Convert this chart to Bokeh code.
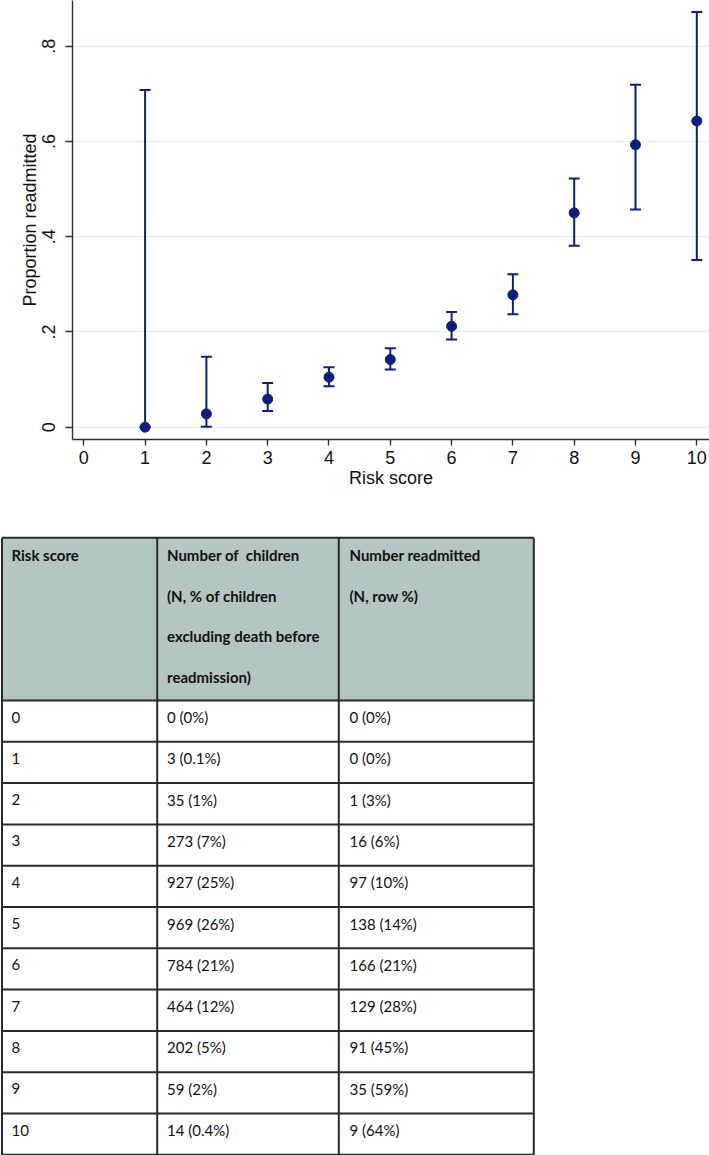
from bokeh.plotting import figure
from bokeh.layouts import column
from bokeh.models import (Range1d, FixedTicker, CustomJSTickFormatter, ColumnDataSource,
                          Whisker, TeeHead)
from bokeh.core.properties import value
from bokeh.embed import file_html
from bokeh.resources import INLINE

# ---------------- data ----------------
score_plot = [1, 2, 3, 4, 5, 6, 7, 8, 9, 10]
proportion = [0.0, 0.028, 0.059, 0.105, 0.142, 0.212, 0.278, 0.450, 0.593, 0.643]
ci_low = [0.0, 0.001, 0.034, 0.086, 0.121, 0.184, 0.237, 0.381, 0.457, 0.351]
ci_high = [0.708, 0.148, 0.093, 0.126, 0.166, 0.242, 0.321, 0.522, 0.719, 0.872]

x_ticks = [0, 1, 2, 3, 4, 5, 6, 7, 8, 9, 10]
y_ticks = [0, 0.2, 0.4, 0.6, 0.8]

table_scores = ["0", "1", "2", "3", "4", "5", "6", "7", "8", "9", "10"]
children_text = ["0 (0%)", "3 (0.1%)", "35 (1%)", "273 (7%)", "927 (25%)", "969 (26%)",
                 "784 (21%)", "464 (12%)", "202 (5%)", "59 (2%)", "14 (0.4%)"]
readmitted_text = ["0 (0%)", "0 (0%)", "1 (3%)", "16 (6%)", "97 (10%)", "138 (14%)",
                   "166 (21%)", "129 (28%)", "91 (45%)", "35 (59%)", "9 (64%)"]
header_col1 = ["Risk score"]
header_col2 = ["Number of\u00a0 children", "(N, % of children", "excluding death before", "readmission)"]
header_col3 = ["Number readmitted", "(N, row %)"]

NAVY = "#0f1d7d"
AXIS = "#2e2e2e"
FONT = "Liberation Sans"

# ---------------- chart ----------------
p = figure(width=709, height=500, x_range=Range1d(-0.184, 10.207),
           y_range=Range1d(-0.0258, 0.896), output_backend="svg",
           toolbar_location=None, min_border_left=72, min_border_right=0,
           min_border_top=0, min_border_bottom=61)
p.outline_line_color = None
p.background_fill_color = "white"
p.border_fill_color = "white"
p.xgrid.grid_line_color = None
p.ygrid.grid_line_color = "#dcf1ee"
p.ygrid.grid_line_width = 1.2

p.xaxis.ticker = FixedTicker(ticks=x_ticks)
p.yaxis.ticker = FixedTicker(ticks=y_ticks)
p.yaxis.formatter = CustomJSTickFormatter(
    code='return tick === 0 ? "0" : tick.toFixed(1).replace(/^0/, "");')
for ax in (p.xaxis, p.yaxis):
    ax.axis_line_color = AXIS
    ax.axis_line_width = 1.4
    ax.major_tick_line_color = AXIS
    ax.major_tick_line_width = 1.4
    ax.major_tick_in = 0
    ax.minor_tick_line_color = None
    ax.major_label_text_font = FONT
    ax.major_label_text_font_size = "18px"
    ax.major_label_text_color = "#111111"
    ax.axis_label_text_font = FONT
    ax.axis_label_text_font_size = "18px"
    ax.axis_label_text_font_style = "normal"
    ax.axis_label_text_color = "#111111"
p.xaxis.major_tick_out = 6
p.yaxis.major_tick_out = 7
p.xaxis.major_label_standoff = 5
p.yaxis.major_label_standoff = 10
p.yaxis.major_label_orientation = "vertical"
p.xaxis.axis_label = "Risk score"
p.yaxis.axis_label = "Proportion readmitted"
p.xaxis.axis_label_standoff = 1
p.yaxis.axis_label_standoff = 0

src = ColumnDataSource(dict(x=score_plot, y=proportion, lo=ci_low, hi=ci_high))
wh = Whisker(base="x", lower="lo", upper="hi", source=src, line_color=NAVY, line_width=2,
             upper_head=TeeHead(size=11, line_color=NAVY, line_width=2),
             lower_head=TeeHead(size=11, line_color=NAVY, line_width=2))
p.add_layout(wh)
p.scatter("x", "y", source=src, size=10, fill_color=NAVY, line_color=NAVY)

# ---------------- table ----------------
t = figure(width=709, height=655, x_range=Range1d(0, 709), y_range=Range1d(1155, 500),
           output_backend="svg", toolbar_location=None, min_border=0)
t.outline_line_color = None
t.axis.visible = False
t.grid.visible = False
t.background_fill_color = "white"
t.border_fill_color = "white"

for fig in (p, t):
    try:
        fig.frame_align = False
    except Exception:
        pass

col_x = [1.5, 156.7, 338.3, 533.3]
top = 537.3
head_bottom = 700.0
row_h = 41.3
n_rows = len(table_scores)
bottom = head_bottom + n_rows * row_h
line_col = "#2a2a2a"

t.quad(left=[col_x[0]], right=[col_x[3]], top=[top], bottom=[head_bottom],
       fill_color="#b3c6c2", line_color=None)

h_lines = [top, head_bottom] + [head_bottom + (k + 1) * row_h for k in range(n_rows)]
t.segment(x0=[col_x[0]] * len(h_lines), x1=[col_x[3]] * len(h_lines), y0=h_lines, y1=h_lines,
          line_color=line_col, line_width=2)
t.segment(x0=col_x, x1=col_x, y0=[top] * 4, y1=[bottom] * 4, line_color=line_col, line_width=2)

TFONT = value("Lato")
pad = [11, 166.5, 349]
line_gap = 40.5
first_base = top + 17.5

hx, hy, ht = [], [], []
for ci, lines in enumerate([header_col1, header_col2, header_col3]):
    for li, s in enumerate(lines):
        hx.append(pad[ci])
        hy.append(first_base + li * line_gap)
        ht.append(s)
t.text(x=hx, y=hy, text=ht, text_font=TFONT, text_font_size="15px", text_font_style="bold",
       text_baseline="alphabetic", text_align="left", text_color="#111111")

bx, by, bt = [], [], []
for k in range(n_rows):
    yb = head_bottom + k * row_h + 16.5
    for ci, s in enumerate([table_scores[k], children_text[k], readmitted_text[k]]):
        bx.append(pad[ci])
        by.append(yb)
        bt.append(s)
t.text(x=bx, y=by, text=bt, text_font=TFONT, text_font_size="15px",
       text_baseline="alphabetic", text_align="left", text_color="#111111")

layout = column(p, t, spacing=0)
open("out.html", "w").write(file_html(layout, INLINE))
